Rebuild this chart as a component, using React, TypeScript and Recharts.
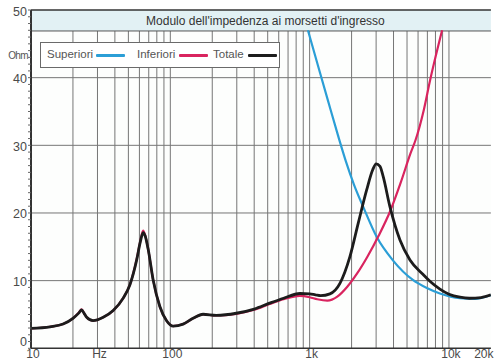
import React from 'react';
import { LineChart, Line, XAxis, YAxis, CartesianGrid, ReferenceArea, ReferenceLine, Legend, Label } from 'recharts';

const FREQ_TOTALE = [10, 13.7, 17, 20, 22, 23.1, 24, 25.1, 27.9, 33, 38.9, 45.9, 51.3, 57.4, 61, 63.8, 66, 69.4, 75.3, 84.1, 94, 104.8, 123.6, 145.7, 171.8, 213.8, 297.5, 400, 516, 650, 852, 1000, 1100, 1200, 1399, 1650, 1946, 2233, 2566, 2832, 3000, 3200, 3370, 3773, 4450, 5250, 6530, 7300, 8610, 10000, 12000, 14000, 17000, 20000];
const OHM_TOTALE = [2.95, 3.18, 3.58, 4.43, 5.2, 5.67, 5.2, 4.58, 4.08, 4.58, 5.57, 7.41, 9.4, 13.1, 15.8, 17.1, 16.6, 14.6, 10.1, 6.17, 4.08, 3.28, 3.58, 4.43, 5.03, 4.88, 5.18, 5.8, 6.67, 7.4, 8.1, 8.05, 7.9, 7.78, 8.05, 9.6, 13.54, 18.5, 23.4, 26.35, 27.25, 26.9, 25.4, 20.9, 16.0, 13.05, 10.9, 9.9, 8.75, 8.0, 7.55, 7.4, 7.5, 7.9];

const FREQ_INFERIORI = [10, 13.7, 17, 20, 22, 23.1, 24, 25.1, 27.9, 33, 38.9, 45.9, 51.3, 57.4, 61, 63.8, 66, 69.4, 75.3, 84.1, 94, 104.8, 123.6, 145.7, 171.8, 213.8, 297.5, 400, 516, 650, 848, 1000, 1135, 1339, 1580, 1863, 2198, 2591, 3140, 3808, 4490, 5295, 5750, 6592, 7300, 8930];
const OHM_INFERIORI = [2.95, 3.18, 3.58, 4.43, 5.25, 5.75, 5.2, 4.58, 4.08, 4.58, 5.57, 7.41, 9.4, 13.2, 15.9, 17.4, 16.7, 14.6, 10.1, 6.17, 4.08, 3.28, 3.58, 4.43, 5.0, 4.85, 5.1, 5.7, 6.55, 7.25, 7.74, 7.55, 7.25, 7.05, 7.64, 9.1, 11.1, 13.5, 16.7, 20.4, 24.4, 28.8, 30.75, 35.2, 39.5, 47.0];

const FREQ_SUPERIORI = [972, 1147, 1354, 1596, 1823, 2080, 2413, 3040, 3960, 5510, 6940, 8610, 11980, 15350, 20000];
const OHM_SUPERIORI = [47.0, 41.8, 36.6, 31.5, 27.6, 24.2, 21.0, 16.4, 13.0, 10.1, 8.9, 8.1, 7.4, 7.3, 7.85];

const X_TICKS = [10, 30, 100, 1000, 10000, 20000];
const X_LABELS: Record<number, string> = { 10: '10', 30: 'Hz', 100: '100', 1000: '1k', 10000: '10k', 20000: '20k' };
const GRID_FREQ = [20, 30, 40, 50, 60, 70, 80, 90, 100, 200, 300, 400, 500, 600, 700, 800, 900, 1000, 2000, 3000, 4000, 5000, 6000, 7000, 8000, 9000, 10000];
const Y_TICKS = Array.from({ length: 51 }, (_, i) => i);
const Y_GRID = [10, 20, 30, 40];

const TITLE = "Modulo  dell'impedenza ai morsetti d'ingresso";
const UNIT = 'Ohm';

const SERIES = [
  { name: 'Superiori', color: '#2b9ed6', width: 2.2, freq: FREQ_SUPERIORI, ohm: OHM_SUPERIORI },
  { name: 'Inferiori', color: '#d9245f', width: 2.2, freq: FREQ_INFERIORI, ohm: OHM_INFERIORI },
  { name: 'Totale', color: '#1c1c1c', width: 2.8, freq: FREQ_TOTALE, ohm: OHM_TOTALE },
];

const FONT = "'Liberation Sans', Arial, sans-serif";

const YTick = (props: any) => {
  const { x, y, payload } = props;
  const v = payload.value;
  if (v === 43) {
    return (
      <text x={x + 1} y={y} dy={2} textAnchor="end" fontSize={10} fill="#555" fontFamily={FONT} letterSpacing={-0.6}>
        {UNIT}
      </text>
    );
  }
  if (v % 10 !== 0) return null;
  return (
    <text x={x} y={y} dy={v === 0 ? -2 : 5.5} textAnchor="end" fontSize={12.5} fill="#4a4a4a" fontFamily={FONT}>
      {String(v)}
    </text>
  );
};

const XTick = (props: any) => {
  const { x, y, payload } = props;
  const last = payload.value === 20000;
  return (
    <text x={last ? 493.5 : x + 2} y={y} dy={7.2} textAnchor={last ? 'end' : 'middle'} fontSize={12} fill="#4a4a4a" fontFamily={FONT}>
      {X_LABELS[payload.value] ?? ''}
    </text>
  );
};

const LegendBox = () => {
  const pos = [
    { text: 6, line: 55 },
    { text: 96, line: 138 },
    { text: 172, line: 207 },
  ];
  return (
    <div style={{ position: 'relative', width: 240, height: 26, boxSizing: 'border-box', border: '1px solid #6a6a6a', background: '#ffffff', fontFamily: FONT, fontSize: 11.5, color: '#555' }}>
      {SERIES.map((s, i) => (
        <React.Fragment key={s.name}>
          <span style={{ position: 'absolute', left: pos[i].text, top: 5, lineHeight: '13px', whiteSpace: 'nowrap' }}>{s.name}</span>
          <span style={{ position: 'absolute', left: pos[i].line, top: 11, width: 29, height: 3, background: s.color, borderRadius: 1 }} />
        </React.Fragment>
      ))}
    </div>
  );
};

const TitleLabel = (props: any) => {
  const vb = props.viewBox || {};
  const cx = (vb.x ?? 0) + (vb.width ?? 0) / 2 + 4.5;
  const cy = (vb.y ?? 0) + (vb.height ?? 0) / 2 + 4.5;
  return (
    <text x={cx} y={cy} textAnchor="middle" fontSize={12} fill="#333" fontFamily={FONT}>
      {TITLE}
    </text>
  );
};

export default function App() {
  return (
    <div style={{ position: 'absolute', left: 0, top: 0, width: 494, height: 360, background: '#ffffff' }}>
      <LineChart width={494} height={360} margin={{ top: 10, right: 3.1, left: 0, bottom: 0 }}>
        <CartesianGrid stroke="#767676" strokeWidth={1} verticalValues={GRID_FREQ} horizontalValues={Y_GRID} fill="#fdfefd" />
        <XAxis
          dataKey="f"
          type="number"
          scale="log"
          domain={[10, 20000]}
          allowDataOverflow
          ticks={X_TICKS}
          interval={0}
          height={11.7}
          tickLine={false}
          tickSize={0}
          tickMargin={2}
          axisLine={{ stroke: '#333', strokeWidth: 1.5 }}
          tick={<XTick />}
        />
        <YAxis
          type="number"
          domain={[0, 50]}
          ticks={Y_TICKS}
          interval={0}
          width={31}
          tickSize={3}
          tickMargin={1}
          allowDataOverflow
          axisLine={{ stroke: '#333', strokeWidth: 2 }}
          tickLine={{ stroke: '#666' }}
          tick={<YTick />}
        />
        <ReferenceArea y1={46.9} y2={50} fill="#e2f1f4" fillOpacity={1} stroke="none" label={<Label content={<TitleLabel />} />} />
        <ReferenceLine y={46.9} stroke="#555" strokeWidth={1} />
        <ReferenceLine y={50} stroke="#333" strokeWidth={1.5} />
        {SERIES.map((s) => (
          <Line
            key={s.name}
            name={s.name}
            data={s.freq.map((f, i) => ({ f, v: s.ohm[i] }))}
            dataKey="v"
            type="monotone"
            stroke={s.color}
            strokeWidth={s.width}
            dot={false}
            activeDot={false}
            isAnimationActive={false}
          />
        ))}
        <Legend layout="horizontal" verticalAlign="middle" align="center" wrapperStyle={{ left: 40, top: 42, width: 240, height: 26 }} content={<LegendBox />} />
      </LineChart>
    </div>
  );
}
